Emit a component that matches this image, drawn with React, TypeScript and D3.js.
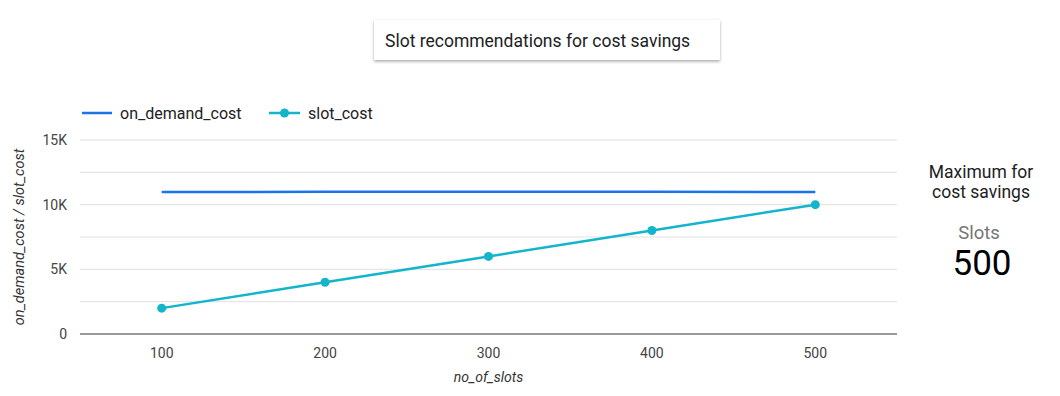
import React from 'react';
import * as d3 from 'd3';

const WIDTH = 1060;
const HEIGHT = 396;
const MARGIN = { top: 140, right: 163, bottom: 62, left: 80 };

const slots = ['100', '200', '300', '400', '500'];
const onDemandCost = [10970, 11000, 11000, 11000, 10970];
const slotCost = [2000, 4000, 6000, 8000, 10000];
const yTicks = [0, 5000, 10000, 15000];
const yGrid = [2500, 7500, 12500];

const BLUE = '#1a73e8';
const CYAN = '#12b5cb';
const FONT = 'Roboto, "Noto Sans", sans-serif';

function fmt(v: number) {
    return v === 0 ? '0' : `${v / 1000}K`;
}

export default function App() {
    const plotW = WIDTH - MARGIN.left - MARGIN.right;
    const plotH = HEIGHT - MARGIN.top - MARGIN.bottom;

    const x = d3.scalePoint<string>().domain(slots).range([0, plotW]).padding(0.5);
    const y = d3.scaleLinear().domain([0, 15000]).range([plotH, 0]);

    const line = d3
        .line<number>()
        .x((_, i) => x(slots[i]) as number)
        .y((d) => y(d));

    return (
        <svg
            width={WIDTH}
            height={HEIGHT}
            style={{ position: 'absolute', left: 0, top: 0, fontFamily: FONT }}
        >
            <defs>
                <filter id="shadow" x="-10%" y="-30%" width="120%" height="170%">
                    <feDropShadow dx="0" dy="1.5" stdDeviation="1.5" floodColor="#000" floodOpacity="0.35" />
                </filter>
            </defs>
            <rect width={WIDTH} height={HEIGHT} fill="#fff" />

            {/* title card */}
            <rect x={374} y={20} width={346} height={40} fill="#fff" filter="url(#shadow)" />
            <text x={385} y={47} fontSize={17.5} fill="#202124">
                Slot recommendations for cost savings
            </text>

            {/* legend */}
            <g transform="translate(82,113)">
                <line x1={0} x2={30} y1={0} y2={0} stroke={BLUE} strokeWidth={2.5} />
                <text x={38} y={5.5} fontSize={16} fill="#202124">on_demand_cost</text>
                <line x1={187} x2={218} y1={0} y2={0} stroke={CYAN} strokeWidth={2.5} />
                <circle cx={202.5} cy={0} r={4.5} fill={CYAN} />
                <text x={226} y={5.5} fontSize={16} fill="#202124">slot_cost</text>
            </g>

            <g transform={`translate(${MARGIN.left},${MARGIN.top})`}>
                {[...yGrid, ...yTicks.filter((t) => t > 0)].map((t) => (
                    <line key={t} x1={0} x2={plotW} y1={y(t)} y2={y(t)} stroke="#e0e0e0" strokeWidth={1} />
                ))}
                <line x1={0} x2={plotW} y1={y(0)} y2={y(0)} stroke="#333" strokeWidth={1.2} />

                {yTicks.map((t) => (
                    <text key={t} x={-13} y={y(t) + 5} fontSize={14} fill="#444" textAnchor="end">
                        {fmt(t)}
                    </text>
                ))}
                {slots.map((s) => (
                    <text key={s} x={x(s)} y={plotH + 24} fontSize={14} fill="#444" textAnchor="middle">
                        {s}
                    </text>
                ))}

                <path d={line(onDemandCost) || ''} fill="none" stroke={BLUE} strokeWidth={2.5} />
                <path d={line(slotCost) || ''} fill="none" stroke={CYAN} strokeWidth={2.5} />
                {slotCost.map((v, i) => (
                    <circle key={i} cx={x(slots[i])} cy={y(v)} r={4.5} fill={CYAN} />
                ))}
            </g>

            <text
                x={MARGIN.left + plotW / 2}
                y={382}
                fontSize={14}
                fontStyle="italic"
                fill="#333"
                textAnchor="middle"
            >
                no_of_slots
            </text>
            <text
                transform="translate(24,237) rotate(-90)"
                fontSize={14.5}
                fontStyle="italic"
                fill="#333"
                textAnchor="middle"
            >
                on_demand_cost / slot_cost
            </text>

            {/* scorecard */}
            <g textAnchor="middle">
                <text x={981} y={178} fontSize={17.5} fill="#202124">Maximum for</text>
                <text x={981} y={198} fontSize={17.5} fill="#202124">cost savings</text>
                <text x={979} y={239} fontSize={18.5} fill="#757575">Slots</text>
                <text x={982} y={275} fontSize={35} fill="#000">500</text>
            </g>
        </svg>
    );
}
